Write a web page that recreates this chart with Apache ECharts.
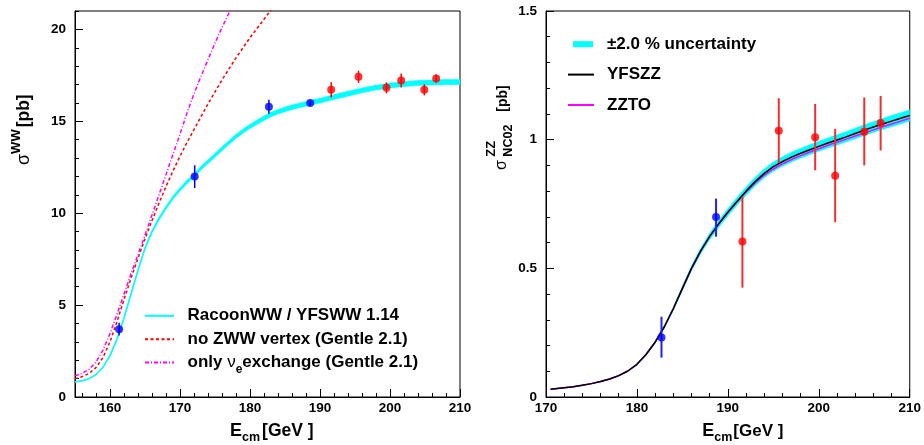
<!DOCTYPE html>
<html><head><meta charset="utf-8">
<script src="https://cdn.jsdelivr.net/npm/echarts@6/dist/echarts.min.js"></script>
<style>html,body{margin:0;padding:0;background:#fff}#c{width:924px;height:445px}</style>
</head><body><div id="c"></div>
<script>
// ================= DATA =================
// ---- Left panel: sigma_WW vs E_cm ----
const wwXTicks = [160, 170, 180, 190, 200, 210];
const wwXMinor = [156,158,162,164,166,168,172,174,176,178,182,184,186,188,192,194,196,198,202,204,206,208];
const wwYTicks = [0, 5, 10, 15, 20];
const wwYMinor = [1,2,3,4,6,7,8,9,11,12,13,14,16,17,18,19,21];

const racoonX = [155,156,157,158,159,160,161,162,163,164,165,166,167,168,169,170,171,172,173,174,175,176,177,178,179,180,181,182,183,184,185,186,187,188,189,190,192,194,196,198,200,202,204,206,208,210];
const racoonY = [0.82,0.88,1.0,1.22,1.62,2.25,3.15,4.3,5.6,6.9,8.1,9.0,9.7,10.3,10.85,11.3,11.7,12.05,12.45,12.8,13.15,13.5,13.85,14.18,14.47,14.72,14.95,15.17,15.37,15.52,15.65,15.76,15.86,15.95,16.04,16.12,16.32,16.5,16.68,16.83,16.95,17.03,17.08,17.11,17.13,17.14];

const noZwwX = [155,156,157,158,159,160,161,162,163,164,165,166,167,168,169,170,171,172,173,174,175,176,177,178,179,180,181,182,183,184];
const noZwwY = [1.0,1.1,1.28,1.6,2.15,3.0,4.1,5.3,6.45,7.55,8.6,9.6,10.55,11.45,12.3,13.1,13.85,14.55,15.25,15.95,16.6,17.25,17.85,18.45,19.0,19.55,20.05,20.55,21.05,21.55];

const nueX = [155,156,157,158,159,160,161,162,163,164,165,166,167,168,169,170,171,172,173,174,175,176,177,178];
const nueY = [1.15,1.28,1.5,1.9,2.55,3.45,4.5,5.6,6.7,7.75,8.8,9.9,11.0,12.1,13.2,14.3,15.45,16.5,17.45,18.35,19.25,20.1,20.9,21.7];

const wwBlueX = [161.3, 172.1, 182.7, 188.6];
const wwBlueY = [3.69, 11.99, 15.79, 15.99];
const wwBlueErr = [0.35, 0.62, 0.38, 0.14];
const wwRedX = [191.6, 195.5, 199.5, 201.6, 204.9, 206.6];
const wwRedY = [16.71, 17.42, 16.82, 17.22, 16.71, 17.33];
const wwRedErr = [0.42, 0.33, 0.3, 0.38, 0.3, 0.22];

// ---- Right panel: sigma_ZZ (NC02) vs E_cm ----
const zzXTicks = [170, 180, 190, 200, 210];
const zzXMinor = [172,174,176,178,182,184,186,188,192,194,196,198,202,204,206,208];
const zzYTicks = [0, 0.5, 1, 1.5];
const zzYMinor = [0.1,0.2,0.3,0.4,0.6,0.7,0.8,0.9,1.1,1.2,1.3,1.4];

const zzCurveX = [170.5,171,172,173,174,175,176,177,178,179,180,181,182,183,184,185,186,187,188,189,190,191,192,193,194,195,196,197,198,199,200,201,202,203,204,205,206,207,208,209,210];
const yfszzY = [0.030,0.032,0.036,0.040,0.046,0.052,0.060,0.070,0.083,0.101,0.127,0.165,0.213,0.272,0.343,0.422,0.500,0.567,0.624,0.673,0.718,0.760,0.800,0.837,0.869,0.895,0.915,0.932,0.947,0.961,0.974,0.987,0.999,1.011,1.024,1.037,1.049,1.061,1.072,1.083,1.094];
const zztoY = [0.030,0.032,0.036,0.040,0.046,0.052,0.060,0.070,0.083,0.101,0.127,0.165,0.213,0.272,0.343,0.422,0.500,0.567,0.624,0.673,0.718,0.758,0.797,0.832,0.862,0.886,0.906,0.923,0.938,0.952,0.965,0.978,0.990,1.002,1.014,1.026,1.038,1.050,1.061,1.072,1.083];
const zzBandPct = 2.0;   // ±2.0 % uncertainty band

const zzBlueX = [182.7, 188.7];
const zzBlueY = [0.231, 0.699];
const zzBlueLo = [0.153, 0.623];
const zzBlueHi = [0.312, 0.771];
const zzRedX = [191.6, 195.6, 199.6, 201.8, 205.0, 206.8];
const zzRedY = [0.604, 1.035, 1.009, 0.860, 1.031, 1.065];
const zzRedLo = [0.425, 0.909, 0.881, 0.679, 0.900, 0.958];
const zzRedHi = [0.779, 1.161, 1.139, 1.042, 1.164, 1.170];

// ================= CHART =================
const FONT = '"Liberation Sans", Arial, Helvetica, sans-serif';
const CYAN = '#00ffff', RED = '#ff0000', BLUE = '#0000ff', MAG = '#ff00ff';
const zip = (xs, ys) => xs.map((x, i) => [x, ys[i]]);

function axisPair(dim, grid, min, max, majors, minors, margin) {
  const major = {
    type: 'value', gridIndex: grid, min: min, max: max,
    position: dim === 'x' ? 'bottom' : 'left',
    axisLine: {show: true, onZero: false, lineStyle: {color: '#000', width: 1}},
    axisTick: {show: true, inside: true, length: 8, customValues: majors, lineStyle: {color: '#000', width: 1}},
    axisLabel: {show: true, customValues: majors, margin: margin, fontSize: 13.5, fontWeight: 'bold', color: '#000', fontFamily: FONT},
    splitLine: {show: false}, minorTick: {show: false}
  };
  const minor = {
    type: 'value', gridIndex: grid, min: min, max: max,
    position: dim === 'x' ? 'bottom' : 'left',
    axisLine: {show: false},
    axisTick: {show: true, inside: true, length: 4, customValues: minors, lineStyle: {color: '#000', width: 1}},
    axisLabel: {show: false},
    splitLine: {show: false}, minorTick: {show: false}
  };
  return [major, minor];
}

function errSeries(xIdx, yIdx, xs, lo, hi, color, width) {
  return {
    type: 'custom', xAxisIndex: xIdx, yAxisIndex: yIdx, silent: true, z: 4,
    data: xs.map((x, i) => [x, lo[i], hi[i]]),
    renderItem: (p, api) => {
      const a = api.coord([api.value(0), api.value(1)]);
      const b = api.coord([api.value(0), api.value(2)]);
      return {type: 'line', shape: {x1: a[0], y1: a[1], x2: b[0], y2: b[1]}, style: {stroke: color, lineWidth: width}};
    }
  };
}

function bandSeries(name, xIdx, yIdx, xs, lo, hi, color) {
  return {
    type: 'custom', name: name, xAxisIndex: xIdx, yAxisIndex: yIdx, silent: true, z: 1,
    itemStyle: {color: color},
    data: xs.map((x, i) => [x, lo[i], hi[i]]),
    renderItem: (p, api) => {
      if (p.dataIndex !== 0) return null;
      const pts = [];
      for (let i = 0; i < xs.length; i++) pts.push(api.coord([xs[i], hi[i]]));
      for (let i = xs.length - 1; i >= 0; i--) pts.push(api.coord([xs[i], lo[i]]));
      return {type: 'polygon', shape: {points: pts}, style: {fill: color, stroke: color, lineWidth: 0.5}};
    }
  };
}

const measCtx = document.createElement('canvas').getContext('2d');
function tw(t, size, w) { measCtx.font = w + ' ' + size + 'px ' + FONT; return measCtx.measureText(t).width; }
function titleGroup(x, y, rot, pieces) {
  let cur = 0, prevStart = 0;
  const children = [];
  pieces.forEach(p => {
    const start = p.back ? prevStart : cur + (p.gap || 0);
    const width = tw(p.t, p.size, p.w);
    children.push({
      type: 'text', x: start, y: (p.dy || 0) - 0.31 * p.size,
      style: {text: p.t, font: p.w + ' ' + p.size + 'px ' + FONT, fill: '#000',
              textAlign: 'left', textVerticalAlign: 'middle', align: 'left', verticalAlign: 'middle'}
    });
    prevStart = start;
    cur = p.back ? Math.max(cur, start + width) : start + width;
  });
  return {type: 'group', x: x, y: y, rotation: rot, children: children, silent: true};
}

const [lx, lxm] = axisPair('x', 0, 155, 210, wwXTicks, wwXMinor, 4);
const [ly, lym] = axisPair('y', 0, 0, 21, wwYTicks, wwYMinor, 9);
const [rx, rxm] = axisPair('x', 1, 170, 210, zzXTicks, zzXMinor, 4);
const [ry, rym] = axisPair('y', 1, 0, 1.5, zzYTicks, zzYMinor, 9);

const f = zzBandPct / 100;
const bandLo = yfszzY.map(v => v * (1 - f));
const bandHi = yfszzY.map(v => v * (1 + f));
const racoonLo = racoonY.map(v => v * 0.992);
const racoonHi = racoonY.map(v => v * 1.008);

const legText = {fontSize: 17, fontWeight: 'bold', fontFamily: FONT, color: '#000'};
const legCommon = {orient: 'vertical', padding: 0, selectedMode: false,
                   itemStyle: {opacity: 0, borderWidth: 0}, lineStyle: {opacity: 1}};

const option = {
  animation: false,
  backgroundColor: '#fff',
  grid: [
    {left: 75, top: 11, width: 385, height: 386, show: true, borderColor: '#000', borderWidth: 1, backgroundColor: 'transparent'},
    {left: 546, top: 11, width: 394, height: 386, show: true, borderColor: '#000', borderWidth: 1, backgroundColor: 'transparent'}
  ],
  xAxis: [lx, lxm, rx, rxm],
  yAxis: [ly, lym, ry, rym],
  legend: [
    Object.assign({left: 144, top: 307.3, itemWidth: 29, itemHeight: 14, itemGap: 6.5,
     data: ['RacoonWW / YFSWW 1.14', 'no ZWW vertex (Gentle 2.1)'],
     textStyle: Object.assign({padding: [0, 0, 0, 8.5]}, legText)}, legCommon),
    Object.assign({left: 144, top: 354, itemWidth: 29, itemHeight: 14,
     data: ['only νe exchange (Gentle 2.1)'],
     formatter: () => '{a|only }{n|ν}{s|e}{a|exchange (Gentle 2.1)}',
     textStyle: Object.assign({padding: [0, 0, 0, 8.5], rich: {
       a: {fontSize: 17, fontWeight: 'bold', fontFamily: FONT, color: '#000'},
       n: {fontSize: 17, fontWeight: 'normal', fontFamily: FONT, color: '#000'},
       s: {fontSize: 12, fontWeight: 'bold', fontFamily: FONT, color: '#000', padding: [14, 0, 0, 0]}
     }}, legText)}, legCommon),
    Object.assign({left: 567, top: 35.7, itemWidth: 26, itemHeight: 14, itemGap: 13.4,
     data: [{name: '±2.0 % uncertainty', icon: 'path://M0,0M26,14M5,4L25,4L25,10L5,10Z', itemStyle: {color: CYAN, opacity: 1}}, 'YFSZZ', 'ZZTO'],
     textStyle: Object.assign({padding: [0, 0, 0, 8]}, legText)}, legCommon)
  ],
  graphic: [
    titleGroup(230, 436.7, 0, [{t: 'E', size: 18, w: 'bold'}, {t: 'cm', size: 12.5, w: 'bold', dy: 5}, {t: '[GeV ]', size: 17.5, w: 'bold', gap: 2}]),
    titleGroup(702.3, 436.7, 0, [{t: 'E', size: 18, w: 'bold'}, {t: 'cm', size: 12.5, w: 'bold', dy: 5}, {t: '[GeV ]', size: 17, w: 'bold', gap: 1}]),
    titleGroup(29.5, 165, Math.PI / 2, [{t: 'σ', size: 18, w: 'normal'}, {t: 'WW', size: 13, w: 'bold', dy: -9}, {t: '[pb]', size: 17.5, w: 'bold', gap: 2}]),
    titleGroup(507, 170, Math.PI / 2, [{t: 'σ', size: 16, w: 'normal'}, {t: 'ZZ', size: 13, w: 'bold', dy: -12, gap: 3.5}, {t: 'NC02', size: 12.5, w: 'bold', dy: 5, back: true}, {t: '[pb]', size: 14, w: 'bold', gap: 13}])
  ],
  series: [
    // left panel
    bandSeries('RacoonWW band', 0, 0, racoonX, racoonLo, racoonHi, CYAN),
    {type: 'line', name: 'RacoonWW / YFSWW 1.14', xAxisIndex: 0, yAxisIndex: 0, data: zip(racoonX, racoonY),
     symbol: 'none', smooth: false, z: 2, lineStyle: {color: CYAN, width: 1.5}, itemStyle: {color: CYAN}},
    {type: 'line', name: 'no ZWW vertex (Gentle 2.1)', xAxisIndex: 0, yAxisIndex: 0, data: zip(noZwwX, noZwwY),
     symbol: 'none', smooth: false, z: 2, lineStyle: {color: RED, width: 1.5, type: [3, 2.5]}, itemStyle: {color: RED}},
    {type: 'line', name: 'only νe exchange (Gentle 2.1)', xAxisIndex: 0, yAxisIndex: 0, data: zip(nueX, nueY),
     symbol: 'none', smooth: false, z: 2, lineStyle: {color: MAG, width: 1.5, type: [4, 2, 1, 2]}, itemStyle: {color: MAG}},
    errSeries(0, 0, wwBlueX, wwBlueY.map((v, i) => v - wwBlueErr[i]), wwBlueY.map((v, i) => v + wwBlueErr[i]), BLUE, 1.5),
    errSeries(0, 0, wwRedX, wwRedY.map((v, i) => v - wwRedErr[i]), wwRedY.map((v, i) => v + wwRedErr[i]), RED, 1.5),
    {type: 'scatter', xAxisIndex: 0, yAxisIndex: 0, data: zip(wwBlueX, wwBlueY), symbol: 'circle', symbolSize: 8, z: 5, itemStyle: {color: BLUE}, silent: true},
    {type: 'scatter', xAxisIndex: 0, yAxisIndex: 0, data: zip(wwRedX, wwRedY), symbol: 'circle', symbolSize: 8, z: 5, itemStyle: {color: RED}, silent: true},
    // right panel
    bandSeries('±2.0 % uncertainty', 2, 2, zzCurveX, bandLo, bandHi, CYAN),
    {type: 'line', name: 'ZZTO', xAxisIndex: 2, yAxisIndex: 2, data: zip(zzCurveX, zztoY),
     symbol: 'none', smooth: false, z: 2, lineStyle: {color: MAG, width: 1.5}, itemStyle: {color: MAG}},
    {type: 'line', name: 'YFSZZ', xAxisIndex: 2, yAxisIndex: 2, data: zip(zzCurveX, yfszzY),
     symbol: 'none', smooth: false, z: 3, lineStyle: {color: '#000', width: 1.5}, itemStyle: {color: '#000'}},
    errSeries(2, 2, zzBlueX, zzBlueLo, zzBlueHi, '#2020ff', 2),
    errSeries(2, 2, zzRedX, zzRedLo, zzRedHi, '#f03030', 2),
    {type: 'scatter', xAxisIndex: 2, yAxisIndex: 2, data: zip(zzBlueX, zzBlueY), symbol: 'circle', symbolSize: 8, z: 5, itemStyle: {color: BLUE}, silent: true},
    {type: 'scatter', xAxisIndex: 2, yAxisIndex: 2, data: zip(zzRedX, zzRedY), symbol: 'circle', symbolSize: 8, z: 5, itemStyle: {color: RED}, silent: true}
  ]
};

const chart = echarts.init(document.getElementById('c'), null, {renderer: 'canvas'});
chart.setOption(option);
</script>
</body></html>
